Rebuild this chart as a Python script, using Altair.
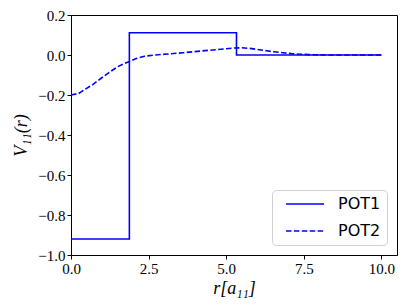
import altair as alt
import pandas as pd

# POT1: step potential (corner points of the steps)
pot1_r = [0.0, 1.88, 1.88, 5.33, 5.33, 10.0]
pot1_v = [-0.92, -0.92, 0.111, 0.111, 0.0, 0.0]

# POT2: smooth dashed potential
pot2_r = [0.0, 0.25, 0.44, 0.7, 0.98, 1.25, 1.51, 1.7, 1.88, 2.1, 2.37, 2.7, 3.12, 3.6, 4.2, 4.7, 5.0, 5.27, 5.5, 5.76, 6.0, 6.3, 6.55, 6.83, 7.1, 7.37, 7.65, 7.9, 8.3, 9.0, 10.0]
pot2_v = [-0.2, -0.192, -0.173, -0.148, -0.115, -0.085, -0.058, -0.044, -0.033, -0.018, -0.006, 0.0, 0.005, 0.011, 0.02, 0.027, 0.031, 0.035, 0.036, 0.033, 0.028, 0.021, 0.016, 0.011, 0.007, 0.004, 0.002, 0.001, 0.0, 0.0, 0.0]

rows = []
for i, (r, v) in enumerate(zip(pot1_r, pot1_v)):
    rows.append({"r": r, "v": v, "s": "POT1", "o": i})
for i, (r, v) in enumerate(zip(pot2_r, pot2_v)):
    rows.append({"r": r, "v": v, "s": "POT2", "o": i})
df = pd.DataFrame(rows)

serif = "Liberation Serif, Times New Roman, serif"
sans = "DejaVu Sans"

chart = alt.Chart(df).mark_line(strokeWidth=1.6).encode(
    x=alt.X("r:Q", scale=alt.Scale(domain=[0, 10.5], nice=False, zero=False),
            axis=alt.Axis(values=[0, 2.5, 5, 7.5, 10], format=".1f", title="r[a₁₁]")),
    y=alt.Y("v:Q", scale=alt.Scale(domain=[-1.0, 0.2], nice=False),
            axis=alt.Axis(values=[-1.0, -0.8, -0.6, -0.4, -0.2, 0.0, 0.2], format=".1f", title="V₁₁(r)")),
    color=alt.Color("s:N", scale=alt.Scale(domain=["POT1", "POT2"], range=["#0000ff", "#0000ff"]),
                    legend=alt.Legend(title=None, orient="bottom-right")),
    strokeDash=alt.StrokeDash("s:N", scale=alt.Scale(domain=["POT1", "POT2"], range=[[1, 0], [5.5, 2.4]]),
                              legend=alt.Legend(title=None, orient="bottom-right")),
    order="o:Q",
).properties(
    width=326, height=240,
    autosize=alt.AutoSizeParams(type="none"),
    padding={"left": 63, "top": 7, "right": 2, "bottom": 50},
).configure_view(
    stroke="black", strokeWidth=1, fill="white"
).configure_axis(
    grid=False, domainColor="black", tickColor="black", tickSize=4,
    labelFont=serif, labelFontSize=15, labelColor="black",
    titleFont=serif, titleFontSize=18, titleColor="black",
    titleFontWeight="normal", titleFontStyle="italic",
    labelPadding=2,
).configure_axisY(
    titlePadding=7,
).configure_axisX(
    titlePadding=3, labelFlush=False,
).configure_legend(
    labelFont=sans, labelFontSize=16, labelColor="black",
    symbolType="M0,0H10", symbolSize=58, symbolStrokeWidth=1.6,
    strokeColor="#d0d0d0", fillColor="white", cornerRadius=4,
    padding=6, rowPadding=11, labelOffset=44, offset=10,
)

chart.save("out.html", embed_options={"renderer": "svg", "actions": False})
